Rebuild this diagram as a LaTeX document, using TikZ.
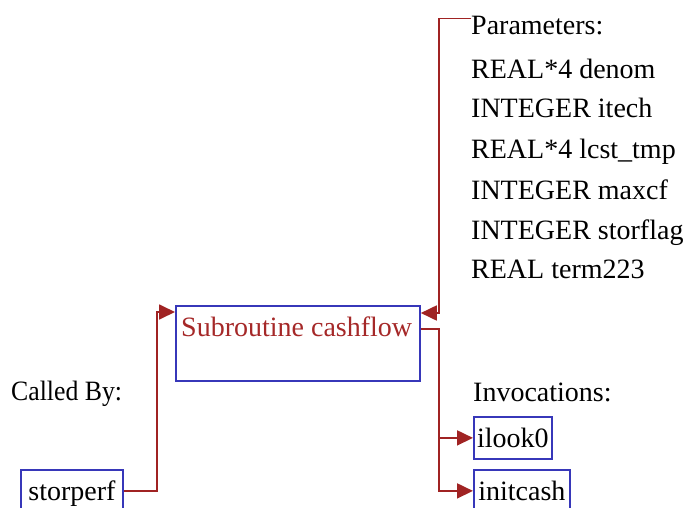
\documentclass[tikz,border=0pt]{standalone}
\usepackage{fontspec}
\setmainfont{Liberation Serif}
\usetikzlibrary{arrows.meta}
\definecolor{lnred}{RGB}{160,35,35}
\definecolor{txred}{RGB}{165,40,40}
\definecolor{bxblue}{RGB}{55,55,185}
\begin{document}
\begin{tikzpicture}[x=1pt,y=-1pt,
  lbl/.style={font=\fontsize{28}{34}\selectfont, inner sep=0pt, anchor=base west},
  box/.style={draw=bxblue, line width=1.8pt, font=\fontsize{28}{34}\selectfont,
    text height=19pt, text depth=0pt, inner sep=0pt, minimum height=42pt, anchor=north west},
  conn/.style={draw=lnred, line width=1.8pt},
  arr/.style={conn, -{Triangle[length=16pt,width=15pt]}}]
\useasboundingbox (0,0) rectangle (688,508);
% main subroutine box
\node[box, minimum width=244pt, minimum height=75pt] (main) at (175,305) {};
\node[lbl, text=txred] (mainlabel) at (181,336) {Subroutine cashflow};
% caller
\node[lbl, xscale=0.92] (calledby) at (11,400) {Called By:};
\node[box, minimum width=102pt] (storperf) at (20,469) {storperf};
% parameters
\node[lbl] (params) at (471,35) {Parameters:};
\node[lbl] (p1) at (471,79) {REAL*4 denom};
\node[lbl] (p2) at (471,118) {INTEGER itech};
\node[lbl] (p3) at (471,158) {REAL*4 lcst\_tmp};
\node[lbl] (p4) at (471,199) {INTEGER maxcf};
\node[lbl] (p5) at (471,239) {INTEGER storflag};
\node[lbl] (p6) at (471,278) {REAL term223};
% invocations
\node[lbl] (invoc) at (473,401) {Invocations:};
\node[box, minimum width=78pt] (ilook) at (473,416) {ilook0};
\node[box, minimum width=96pt] (initcash) at (473,469) {initcash};
% helper coordinates
\coordinate (busx) at (439,0);
\coordinate (lbus) at (157,0);
\coordinate (pin) at ([yshift=-8pt]main.north east);
\coordinate (pout) at ([yshift=-24pt]main.north east);
\coordinate (cin) at ([yshift=-7pt]main.north west);
% connectors
\draw[arr] ([yshift=-2pt]params.north west) -| (busx |- pin) -- (pin);
\draw[arr] (pout) -| (busx |- initcash.west) -- (initcash.west);
\draw[arr] (busx |- ilook.west) -- (ilook.west);
\draw[arr] (storperf.east) -| (lbus |- cin) -- (cin);
\end{tikzpicture}
\end{document}
